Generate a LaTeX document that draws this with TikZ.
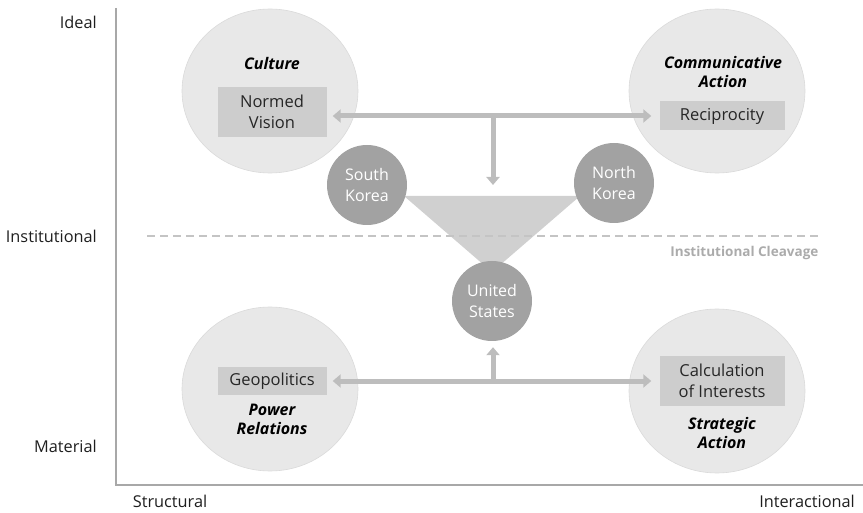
\documentclass[tikz,border=0pt]{standalone}
\usepackage{fontspec}
\setmainfont{Open Sans}
\usepackage{tikz}
\usetikzlibrary{shapes.geometric, arrows.meta, positioning, calc}
\definecolor{bigfill}{HTML}{E8E8E8}
\definecolor{bigline}{HTML}{DADADA}
\definecolor{boxfill}{HTML}{CDCDCD}
\definecolor{boxtext}{HTML}{262626}
\definecolor{actorfill}{HTML}{A2A2A2}
\definecolor{wedgefill}{HTML}{D0D0D0}
\definecolor{arrowgray}{HTML}{BDBDBD}
\definecolor{axisgray}{HTML}{A8A8A8}
\definecolor{cleavegray}{HTML}{C4C4C4}
\definecolor{cleavetext}{HTML}{ABABAB}
\definecolor{axtext}{HTML}{1E1E1E}
\tikzstyle{sphere} = [ellipse, minimum width=176pt, minimum height=164pt, fill=bigfill, draw=bigline, line width=0.6pt]
\tikzstyle{block} = [rectangle, fill=boxfill, text=boxtext, align=center, inner sep=0pt, font=\fontsize{16.5}{21}\selectfont]
\tikzstyle{actor} = [circle, minimum size=80pt, inner sep=0pt, fill=actorfill, text=white, align=center, font=\fontsize{16}{21}\selectfont]
\tikzstyle{title} = [align=center, font=\fontsize{16}{19}\selectfont\bfseries\itshape]
\tikzstyle{axislabel} = [font=\fontsize{16.3}{18}\selectfont, text=axtext, inner sep=0pt]
\tikzstyle{arrow} = [line width=5pt, draw=arrowgray, -{Triangle[width=13pt,length=8pt]}]
\tikzstyle{darrow} = [line width=5pt, draw=arrowgray, {Triangle[width=13pt,length=8pt]}-{Triangle[width=13pt,length=8pt]}]

\begin{document}
\begin{tikzpicture}[x=1pt, y=-1pt]
  \useasboundingbox (0,0) rectangle (863,513);

  % Axes
  \draw[axisgray, line width=1.6pt] (116,8) -- (116,485) -- (863,485);
  \node[axislabel, anchor=east] (ideal) at (97,22) {Ideal};
  \node[axislabel, anchor=east] (inst) at (97,236) {Institutional};
  \node[axislabel, anchor=east] (mat) at (97,446) {Material};
  \node[axislabel] (struc) at (170,501) {Structural};
  \node[axislabel, anchor=east] (inter) at (855,501) {Interactional};

  % Four spheres
  \node[sphere] (cul) at (270,91) {};
  \node[sphere] (com) at (717,91) {};
  \node[sphere] (pow) at (270,389) {};
  \node[sphere] (stra) at (717,391) {};

  % Titles
  \node[title] (cult) at (272,64) {Culture};
  \node[title] (comt) at (723,72) {Communicative\\Action};
  \node[title] (powt) at (272,419) {Power\\Relations};
  \node[title] (strat) at (722,433) {Strategic\\Action};

  % Inner boxes
  \node[block, minimum width=109pt, minimum height=50pt] (nv) at (272,112) {Normed\\Vision};
  \node[block, minimum width=125pt, minimum height=29pt] (rc) at (722,116) {Reciprocity};
  \node[block, minimum width=109pt, minimum height=27pt] (geo) at (272,381) {Geopolitics};
  \node[block, minimum width=125pt, minimum height=50pt] (ci) at (722,381) {Calculation\\of Interests};

  % Wedge and cleavage
  \fill[wedgefill] (404,196) -- (580,196) -- (492,272) -- cycle;
  \draw[cleavegray, line width=2pt, dash pattern=on 8pt off 5pt] (147,236) -- (820,236);
  \node[anchor=east, text=cleavetext, font=\fontsize{13.5}{15}\selectfont\bfseries] (clv) at (822,253) {Institutional Cleavage};

  % Actors
  \node[actor] (sk) at (367,185) {South\\Korea};
  \node[actor] (nk) at (614,183) {North\\Korea};
  \node[actor] (us) at (492,301) {United\\States};

  % Upper arrows
  \coordinate (tj) at ($(nv.east |- rc.west)!0.5!(rc.west)$);
  \draw[darrow, shorten <=6pt, shorten >=8pt] (nv.east |- rc.west) -- (rc.west);
  \draw[arrow] (tj) -- (tj |- sk);

  % Lower arrows
  \coordinate (bj) at ($(geo.east |- ci.west)!0.5!(ci.west)$);
  \draw[darrow, shorten <=6pt, shorten >=8pt] (geo.east |- ci.west) -- (ci.west);
  \draw[arrow, shorten >=6pt] (bj) -- (bj |- us.south);
\end{tikzpicture}
\end{document}
